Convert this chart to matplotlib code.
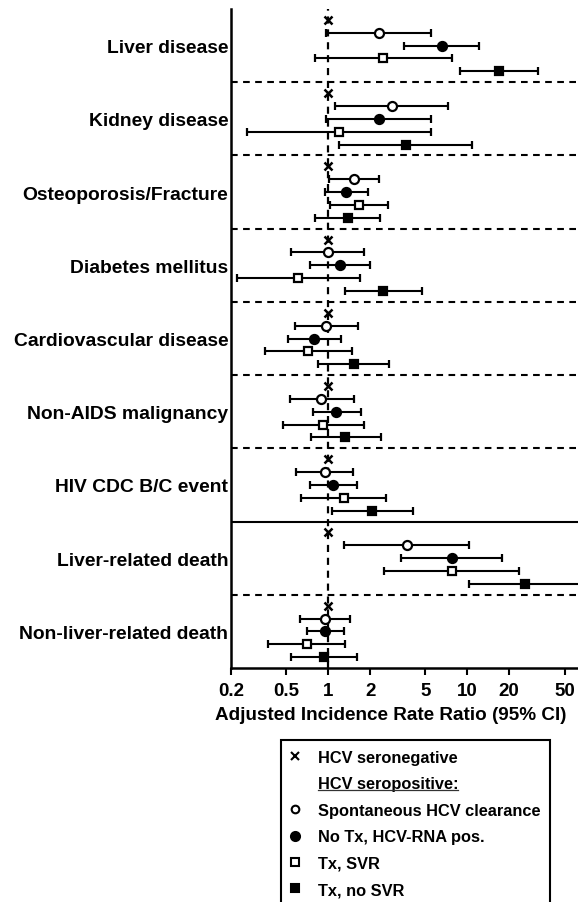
import matplotlib
matplotlib.use("Agg")
import matplotlib.pyplot as plt
from matplotlib.lines import Line2D
import numpy as np

plt.rcParams['font.family'] = ['Liberation Sans', 'DejaVu Sans']
plt.rcParams['font.weight'] = 'bold'

outcomes = ["Liver disease", "Kidney disease", "Osteoporosis/Fracture", "Diabetes mellitus",
            "Cardiovascular disease", "Non-AIDS malignancy", "HIV CDC B/C event",
            "Liver-related death", "Non-liver-related death"]

# Spontaneous HCV clearance (open circle)
clear_est = [2.30, 2.86, 1.53, 0.99, 0.96, 0.89, 0.95, 3.67, 0.95]
clear_lo  = [0.96, 1.11, 1.02, 0.54, 0.58, 0.53, 0.59, 1.30, 0.63]
clear_hi  = [5.5, 7.3, 2.32, 1.81, 1.64, 1.52, 1.50, 10.3, 1.44]
# No Tx, HCV-RNA pos. (filled circle)
notx_est = [6.56, 2.30, 1.34, 1.22, 0.79, 1.14, 1.08, 7.7, 0.95]
notx_lo  = [3.5, 0.97, 0.95, 0.74, 0.51, 0.78, 0.74, 3.34, 0.70]
notx_hi  = [12.2, 5.5, 1.92, 2.0, 1.24, 1.71, 1.60, 17.9, 1.30]
# Tx, SVR (open square)
svr_est = [2.49, 1.20, 1.67, 0.61, 0.72, 0.91, 1.30, 7.75, 0.70]
svr_lo  = [0.80, 0.26, 1.03, 0.22, 0.35, 0.47, 0.64, 2.53, 0.37]
svr_hi  = [7.7, 5.5, 2.68, 1.69, 1.48, 1.80, 2.61, 23.6, 1.33]
# Tx, no SVR (filled square)
nosvr_est = [16.9, 3.63, 1.38, 2.49, 1.52, 1.33, 2.08, 26.0, 0.93]
nosvr_lo  = [8.8, 1.20, 0.80, 1.32, 0.84, 0.75, 1.06, 10.3, 0.54]
nosvr_hi  = [32.5, 10.8, 2.34, 4.75, 2.75, 2.39, 4.1, 80.0, 1.60]
# HCV seronegative reference
ref_val = [1, 1, 1, 1, 1, 1, 1, 1, 1]

xticks = [0.2, 0.5, 1, 2, 5, 10, 20, 50]
xticklabels = ["0.2", "0.5", "1", "2", "5", "10", "20", "50"]

W, H = 578, 903
fig = plt.figure(figsize=(W / 100, H / 100), dpi=100)
ax = fig.add_axes([231 / W, 1 - 669 / H, 1 - 231 / W, (669 - 10) / H])

G = 5.7
n = len(outcomes)
gtop = np.arange(n) * G
first = gtop + 0.85

series = [
    (clear_est, clear_lo, clear_hi, 'o', 'white'),
    (notx_est, notx_lo, notx_hi, 'o', 'black'),
    (svr_est, svr_lo, svr_hi, 's', 'white'),
    (nosvr_est, nosvr_lo, nosvr_hi, 's', 'black'),
]

ax.axvline(1, color='black', lw=1.6, ls=(0, (3.2, 2.6)), zorder=1)

ax.plot(ref_val, first, ls='none', marker='x', color='black', ms=6, mew=1.8, zorder=3)

for k, (est, lo, hi, mk, fc) in enumerate(series):
    est = np.array(est); lo = np.array(lo); hi = np.array(hi)
    y = first + k + 1
    ax.errorbar(est, y, xerr=[est - lo, hi - est], fmt=mk, mfc=fc, mec='black',
                mew=1.6, ms=6.5 if mk == 'o' else 6.2, ecolor='black', elinewidth=1.5,
                capsize=2.6, capthick=1.5, zorder=3)

for g in range(1, n):
    if g == 7:
        ax.axhline(g * G, color='black', lw=1.5, zorder=2)
    else:
        ax.axhline(g * G, color='black', lw=1.5, ls=(0, (3.2, 2.6)), zorder=2)

ax.set_xscale('log')
ax.set_xlim(0.2, 62.5)
ax.set_ylim(n * G, 0)
ax.set_xticks(xticks)
ax.set_xticklabels(xticklabels, fontsize=13.5, fontweight='bold')
ax.minorticks_off()
ax.tick_params(axis='x', which='minor', bottom=False)
ax.set_yticks(gtop + G / 2)
ax.set_yticklabels(outcomes, fontsize=13.9, fontweight='bold')
ax.tick_params(axis='y', length=0, pad=2)
ax.tick_params(axis='x', length=5, width=1.5, pad=5)
ax.set_xlabel("Adjusted Incidence Rate Ratio (95% CI)", fontsize=13.6, fontweight='bold')
ax.xaxis.set_label_coords((391 - 231) / (W - 231), -(716 - 669) / (669 - 10), transform=ax.transAxes)
ax.xaxis.label.set_va('center')
for s in ['top', 'right']:
    ax.spines[s].set_visible(False)
for s in ['left', 'bottom']:
    ax.spines[s].set_linewidth(1.8)

handles = [
    Line2D([], [], ls='none', marker='x', color='black', ms=5.5, mew=1.5),
    Line2D([], [], ls='none'),
    Line2D([], [], ls='none', marker='o', mfc='white', mec='black', ms=5.5, mew=1.5),
    Line2D([], [], ls='none', marker='o', mfc='black', mec='black', ms=6.5, mew=1.5),
    Line2D([], [], ls='none', marker='s', mfc='white', mec='black', ms=5.5, mew=1.5),
    Line2D([], [], ls='none', marker='s', mfc='black', mec='black', ms=6, mew=1.5),
]
labels = ["HCV seronegative", "HCV seropositive:", "Spontaneous HCV clearance",
          "No Tx, HCV-RNA pos.", "Tx, SVR", "Tx, no SVR"]
leg = fig.legend(handles, labels, loc='upper left', bbox_to_anchor=(281 / W, 1 - 741 / H),
                 frameon=True, fancybox=False, edgecolor='black', fontsize=11.8,
                 borderpad=0.6, labelspacing=0.7, handlelength=0.5, handletextpad=1.15,
                 borderaxespad=0, framealpha=1)
leg.get_frame().set_linewidth(1.5)

fig.canvas.draw()
t = leg.get_texts()[1]
bb = t.get_window_extent(fig.canvas.get_renderer())
uy = bb.y0 + 1.5
fig.add_artist(Line2D([bb.x0 / W, bb.x1 / W], [uy / H, uy / H], color='#333333', lw=0.9,
                      transform=fig.transFigure, zorder=20))

fig.savefig("out.png", dpi=100)
